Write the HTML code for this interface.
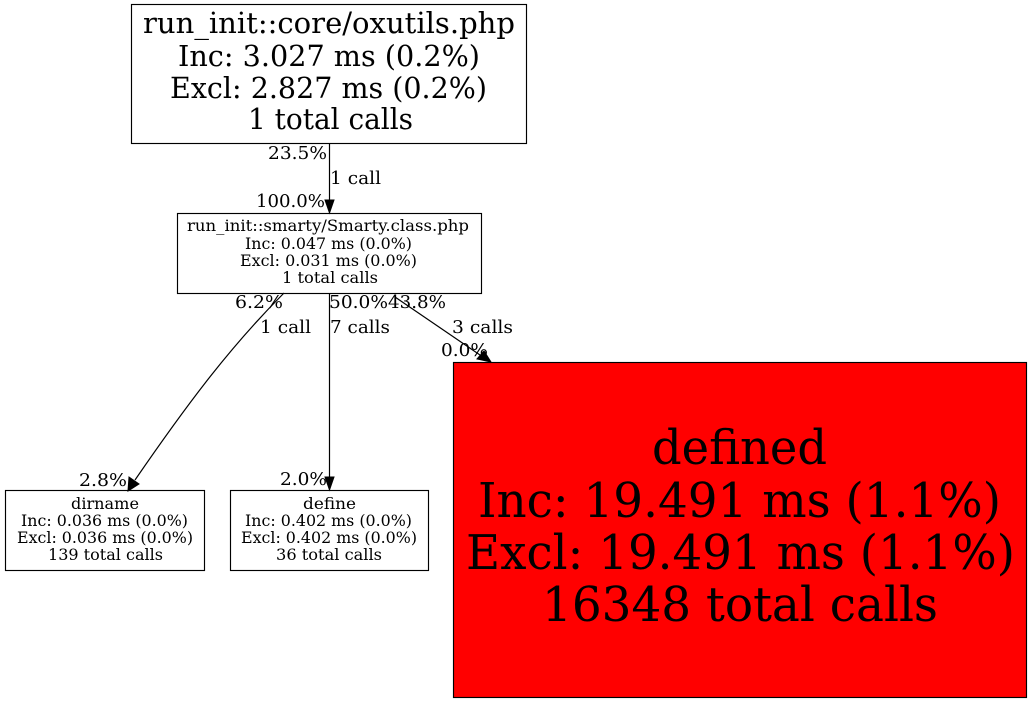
<!DOCTYPE html>
<html><head><meta charset="utf-8"><style>
html,body{margin:0;padding:0;background:#fff}
svg{display:block}
text{font-family:"DejaVu Serif","Liberation Serif",serif;fill:#000}
</style></head><body>
<svg width="1032" height="704" viewBox="0 0 1032 704" xmlns="http://www.w3.org/2000/svg">
<rect width="1032" height="704" fill="#fff"/>
<g fill="#fff" stroke="#000" stroke-width="1.15">
<rect x="131.5" y="4.5" width="395" height="139"/>
<rect x="177.5" y="213.5" width="304" height="80"/>
<rect x="5.5" y="490.5" width="199" height="80"/>
<rect x="230.5" y="490.5" width="198" height="80"/>
<rect x="453.5" y="362.5" width="573" height="335" fill="#f00"/>
</g>
<g fill="none" stroke="#000" stroke-width="1.2">
<path d="M329.5 144V200"/>
<path d="M329.5 293V477"/>
<path d="M284 293C232 345 190 400 135 480"/>
<path d="M395 297L480 355"/>
</g>
<g fill="#000" stroke="#000" stroke-width="1">
<path d="M325 200L334 200L329.5 213Z"/>
<path d="M325 477L334 477L329.5 490Z"/>
<path d="M129 477L139 484L128 491Z"/>
<path d="M484 351L477 359L491 362Z"/>
</g>
<g text-anchor="start">
<g font-size="28.5">
<text x="143" y="33" textLength="372" lengthAdjust="spacingAndGlyphs">run_init::core/oxutils.php</text>
<text x="178" y="66" textLength="302" lengthAdjust="spacingAndGlyphs">Inc: 3.027 ms (0.2%)</text>
<text x="170" y="98" textLength="317" lengthAdjust="spacingAndGlyphs">Excl: 2.827 ms (0.2%)</text>
<text x="248" y="129" textLength="165" lengthAdjust="spacingAndGlyphs">1 total calls</text>
</g>
<g font-size="16">
<text x="187" y="231" textLength="282" lengthAdjust="spacingAndGlyphs">run_init::smarty/Smarty.class.php</text>
<text x="245" y="249" textLength="167" lengthAdjust="spacingAndGlyphs">Inc: 0.047 ms (0.0%)</text>
<text x="240" y="266" textLength="177" lengthAdjust="spacingAndGlyphs">Excl: 0.031 ms (0.0%)</text>
<text x="282" y="283" textLength="96" lengthAdjust="spacingAndGlyphs">1 total calls</text>
<text x="71" y="509" textLength="68" lengthAdjust="spacingAndGlyphs">dirname</text>
<text x="21" y="526" textLength="167" lengthAdjust="spacingAndGlyphs">Inc: 0.036 ms (0.0%)</text>
<text x="17" y="543" textLength="176" lengthAdjust="spacingAndGlyphs">Excl: 0.036 ms (0.0%)</text>
<text x="48" y="560" textLength="115" lengthAdjust="spacingAndGlyphs">139 total calls</text>
<text x="303" y="509" textLength="53" lengthAdjust="spacingAndGlyphs">define</text>
<text x="245" y="526" textLength="167" lengthAdjust="spacingAndGlyphs">Inc: 0.402 ms (0.0%)</text>
<text x="241" y="543" textLength="176" lengthAdjust="spacingAndGlyphs">Excl: 0.402 ms (0.0%)</text>
<text x="276" y="560" textLength="106" lengthAdjust="spacingAndGlyphs">36 total calls</text>
</g>
<g font-size="18">
<text x="268" y="159" textLength="59" lengthAdjust="spacingAndGlyphs">23.5%</text>
<text x="330" y="184" textLength="51" lengthAdjust="spacingAndGlyphs">1 call</text>
<text x="256" y="207" textLength="69" lengthAdjust="spacingAndGlyphs">100.0%</text>
<text x="235" y="308" textLength="48" lengthAdjust="spacingAndGlyphs">6.2%</text>
<text x="329" y="308" textLength="59" lengthAdjust="spacingAndGlyphs">50.0%</text>
<text x="388" y="308" textLength="58" lengthAdjust="spacingAndGlyphs">43.8%</text>
<text x="260" y="333" textLength="51" lengthAdjust="spacingAndGlyphs">1 call</text>
<text x="330" y="333" textLength="60" lengthAdjust="spacingAndGlyphs">7 calls</text>
<text x="452" y="333" textLength="61" lengthAdjust="spacingAndGlyphs">3 calls</text>
<text x="441" y="356" textLength="47" lengthAdjust="spacingAndGlyphs">0.0%</text>
<text x="79" y="486" textLength="48" lengthAdjust="spacingAndGlyphs">2.8%</text>
<text x="280" y="485" textLength="47" lengthAdjust="spacingAndGlyphs">2.0%</text>
</g>
<g font-size="48">
<text x="652" y="464" textLength="175" lengthAdjust="spacingAndGlyphs">defined</text>
<text x="478" y="517" textLength="523" lengthAdjust="spacingAndGlyphs">Inc: 19.491 ms (1.1%)</text>
<text x="466" y="569" textLength="549" lengthAdjust="spacingAndGlyphs">Excl: 19.491 ms (1.1%)</text>
<text x="542" y="621" textLength="396" lengthAdjust="spacingAndGlyphs">16348 total calls</text>
</g>
</g>
</svg>
</body></html>
